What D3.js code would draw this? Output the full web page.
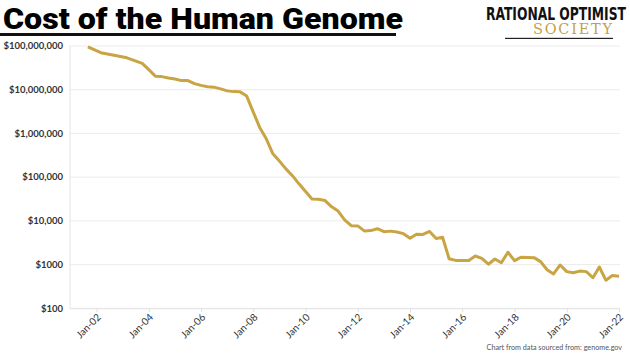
<!DOCTYPE html>
<html>
<head>
<meta charset="utf-8">
<script src="https://cdn.jsdelivr.net/npm/d3@7"></script>
<style>
  html, body { margin: 0; padding: 0; background: #ffffff; }
  svg { display: block; }
</style>
</head>
<body>
<script>
// ---- data ----
const dates = [
  "2001-09","2002-03","2002-09","2003-03","2003-10",
  "2004-01","2004-04","2004-07","2004-10",
  "2005-01","2005-04","2005-07","2005-10",
  "2006-01","2006-04","2006-07","2006-10",
  "2007-01","2007-04","2007-07","2007-10",
  "2008-01","2008-04","2008-07","2008-10",
  "2009-01","2009-04","2009-07","2009-10",
  "2010-01","2010-04","2010-07","2010-10",
  "2011-01","2011-04","2011-07","2011-10",
  "2012-01","2012-04","2012-07","2012-10",
  "2013-01","2013-04","2013-07","2013-10",
  "2014-01","2014-04","2014-07","2014-10",
  "2015-01","2015-04","2015-07","2015-10",
  "2016-01","2016-04","2016-07","2016-10",
  "2017-01","2017-04","2017-07","2017-10",
  "2018-01","2018-04","2018-07","2018-10",
  "2019-01","2019-04","2019-07","2019-10",
  "2020-01","2020-04","2020-07","2020-10",
  "2021-01","2021-04","2021-07","2021-10",
  "2022-01"
];
const costs = [
  95263072, 70175437, 61448422, 53751684, 40157554,
  28780376, 20442576, 19934346, 18519312,
  17534970, 16159699, 16180224, 13801124,
  12585659, 11732535, 11455315, 10474556,
  9408739, 9047003, 8927342, 7147571,
  3063820, 1352982, 752080, 342502,
  232735, 154714, 108065, 70333,
  46774, 31512, 31125, 29092,
  20963, 16712, 10497, 7743,
  7666, 5901, 5985, 6618,
  5671, 5826, 5550, 5096,
  4008, 4920, 4905, 5731,
  3970, 4211, 1363, 1245,
  1245, 1246, 1570, 1390,
  1020, 1340, 1100, 1910,
  1230, 1470, 1450, 1440,
  1170, 760, 610, 980,
  690, 650, 710, 690,
  500, 880, 440, 560,
  540
];
const yTickValues = [100, 1000, 10000, 100000, 1000000, 10000000, 100000000];
const yTickLabels = ["$100", "$1000", "$10,000", "$100,000", "$1,000,000", "$10,000,000", "$100,000,000"];
const xTickYears = [2002, 2004, 2006, 2008, 2010, 2012, 2014, 2016, 2018, 2020, 2022];
const titleText = "Cost of the Human Genome";
const sourceText = "Chart from data sourced from: genome.gov";

// ---- setup ----
const W = 630, H = 355;
const parse = d3.timeParse("%Y-%m");
const data = dates.map((d, i) => ({ date: parse(d), cost: costs[i] }));

const svg = d3.select("body").append("svg").attr("width", W).attr("height", H);

const x = d3.scaleTime()
  .domain([new Date(2001, 0, 1), new Date(2022, 0, 1)])
  .range([70.5, 619]);
const y = d3.scaleLog()
  .domain([100, 100000000])
  .range([308.3, 46]);

// ---- title ----
svg.append("text")
  .attr("x", 3).attr("y", 28.5)
  .attr("font-family", "Roboto, 'Open Sans', sans-serif")
  .attr("font-weight", 900)
  .attr("font-size", 29)
  .attr("fill", "#000")
  .attr("textLength", 400)
  .attr("lengthAdjust", "spacingAndGlyphs")
  .text(titleText);
svg.append("rect").attr("x", 0).attr("y", 33).attr("width", 396).attr("height", 3).attr("fill", "#111");

// ---- logo ----
const logoTop = svg.append("text")
  .attr("x", 0).attr("y", 0)
  .attr("font-family", "'Liberation Sans Narrow', 'DejaVu Sans Condensed', sans-serif")
  .attr("font-weight", 700)
  .attr("font-size", 18)
  .attr("fill", "#111")
  .text("RATIONAL OPTIMIST");
const natW = logoTop.node().getComputedTextLength();
const sx = 140 / natW;
logoTop.attr("transform", `translate(486,19.5) scale(${sx},1)`);

svg.append("text")
  .attr("x", 533).attr("y", 34)
  .attr("font-family", "'DejaVu Serif', 'Liberation Serif', serif")
  .attr("font-size", 14.5)
  .attr("fill", "#c4a145")
  .attr("textLength", 79)
  .attr("lengthAdjust", "spacing")
  .text("SOCIETY");
svg.append("rect").attr("x", 505).attr("y", 37.8).attr("width", 108).attr("height", 1.2).attr("fill", "#222");

// ---- gridlines ----
const g = svg.append("g");
g.selectAll("line.grid").data(yTickValues).join("line")
  .attr("class", "grid")
  .attr("x1", 70).attr("x2", 620)
  .attr("y1", d => y(d)).attr("y2", d => y(d))
  .attr("stroke", "#ececec").attr("stroke-width", 1);

// y axis line
g.append("line").attr("x1", 70).attr("x2", 70).attr("y1", y(1e8)).attr("y2", y(100))
  .attr("stroke", "#e4e4e4").attr("stroke-width", 1);

// y labels
g.selectAll("text.ylab").data(yTickValues).join("text")
  .attr("class", "ylab")
  .attr("x", 63).attr("y", d => y(d) + 3.2)
  .attr("text-anchor", "end")
  .attr("font-family", "Lato, 'Open Sans', sans-serif")
  .attr("font-weight", 700)
  .attr("font-size", 9.5)
  .attr("fill", "#333")
  .text((d, i) => yTickLabels[i]);

// x axis via d3 axis
const xAxis = d3.axisBottom(x)
  .tickValues(xTickYears.map(yr => new Date(yr, 0, 1)))
  .tickSize(4)
  .tickFormat(d3.timeFormat("Jan-%y"));
const ax = svg.append("g").attr("transform", `translate(0,${y(100)})`).call(xAxis);
ax.select(".domain").attr("stroke", "#e4e4e4").attr("d", `M70,0.5H620`);
ax.selectAll(".tick line").attr("stroke", "#e0e0e0");
ax.selectAll(".tick text")
  .attr("font-family", "Lato, 'Open Sans', sans-serif")
  .attr("font-size", 10)
  .attr("fill", "#333")
  .attr("text-anchor", "end")
  .attr("transform", "translate(2,7) rotate(-45)")
  .attr("dy", "0.35em")
  .attr("y", 0)
  .attr("x", 0);

// ---- line ----
const line = d3.line().x(d => x(d.date)).y(d => y(d.cost));
svg.append("path")
  .datum(data)
  .attr("d", line)
  .attr("fill", "none")
  .attr("stroke", "#c8a443")
  .attr("stroke-width", 3)
  .attr("stroke-linejoin", "round")
  .attr("stroke-linecap", "butt");

// ---- source ----
svg.append("text")
  .attr("x", 622).attr("y", 350)
  .attr("text-anchor", "end")
  .attr("font-family", "Lato, 'Open Sans', sans-serif")
  .attr("font-size", 7.2)
  .attr("fill", "#555")
  .text(sourceText);
</script>
</body>
</html>
